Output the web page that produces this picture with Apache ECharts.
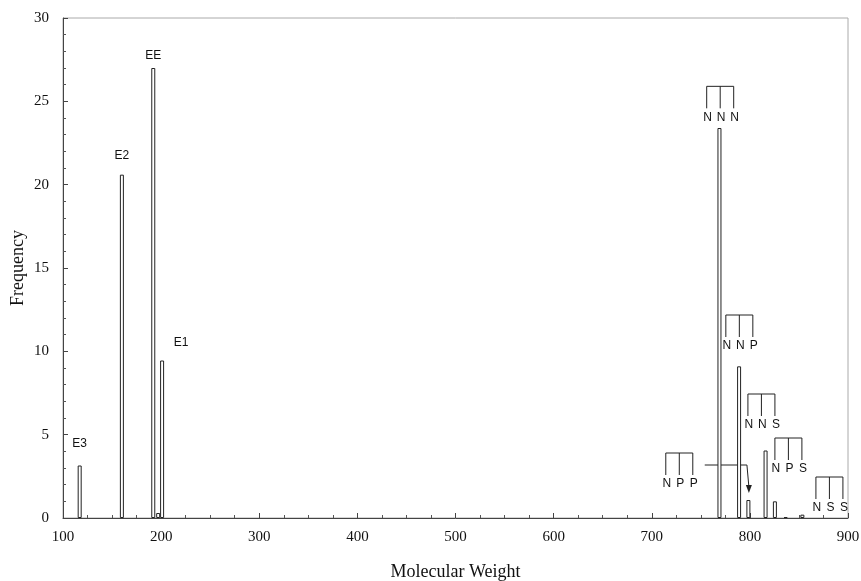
<!DOCTYPE html>
<html><head><meta charset="utf-8">
<script src="https://cdn.jsdelivr.net/npm/echarts@6/dist/echarts.min.js"></script>
<style>html,body{margin:0;padding:0;background:#fff}#c{width:861px;height:581px}</style>
</head><body><div id="c"></div>
<script>
// Data
const molWeight = [117, 160, 192, 197, 201, 769, 789, 798.5, 816, 825.5, 836.5, 853.5];
const frequency = [3.15, 20.6, 27.0, 0.3, 9.45, 23.4, 9.1, 1.08, 4.05, 1.0, 0.06, 0.2];
const peakLabels = ['E3', 'E2', 'EE', '', 'E1', '', '', '', '', '', '', ''];
const xTicks = [100, 200, 300, 400, 500, 600, 700, 800, 900];
const yTicks = [0, 5, 10, 15, 20, 25, 30];
// Tree annotations: letters and anchor (molecular weight, frequency) of bracket top-left
const treeNames = ['NNN', 'NNP', 'NNS', 'NPS', 'NSS', 'NPP'];
const treeAnchorMW = [756, 775.5, 798, 825.5, 867.3, 714.3];
const treeAnchorFreq = [25.9, 12.18, 7.44, 4.8, 2.46, 3.9];
// Arrow from NPP annotation to the small peak
const arrowMW = [754, 797, 799];
const arrowFreq = [3.18, 3.18, 1.5];

const labelStyle = {
  E3: {distance: 16, offset: [0, 0]},
  E2: {distance: 13, offset: [0, 0]},
  EE: {distance: 6, offset: [0, 0]},
  E1: {distance: 12, offset: [19, 0]}
};

const chart = echarts.init(document.getElementById('c'));
const seriesData = molWeight.map((x, i) => {
  const item = {value: [x, frequency[i]]};
  const nm = peakLabels[i];
  if (nm) {
    item.label = {show: true, formatter: nm, position: 'top',
      distance: labelStyle[nm].distance, offset: labelStyle[nm].offset,
      fontFamily: 'Liberation Sans', fontSize: 12, color: '#111'};
  }
  return item;
});

const serif = 'Liberation Serif';
chart.setOption({
  animation: false,
  backgroundColor: '#fff',
  grid: {left: 63, top: 18, right: 13, bottom: 63, show: true, borderColor: '#aaa', borderWidth: 1,
    containLabel: false, outerBoundsMode: 'none'},
  xAxis: {
    type: 'value', min: xTicks[0], max: xTicks[xTicks.length - 1], interval: 100,
    name: 'Molecular Weight', nameLocation: 'middle', nameGap: 45, nameMoveOverlap: false,
    nameTextStyle: {fontFamily: serif, fontSize: 18, color: '#111'},
    axisLine: {lineStyle: {color: '#444'}},
    axisTick: {inside: true, length: 5, lineStyle: {color: '#444'}},
    minorTick: {show: true, splitNumber: 4, length: 3, lineStyle: {color: '#555'}},
    axisLabel: {fontFamily: serif, fontSize: 15, color: '#111', margin: 12},
    splitLine: {show: false}
  },
  yAxis: {
    type: 'value', min: yTicks[0], max: yTicks[yTicks.length - 1], interval: 5,
    name: 'Frequency', nameLocation: 'middle', nameGap: 36, nameRotate: 90, nameMoveOverlap: false,
    nameTextStyle: {fontFamily: serif, fontSize: 18, color: '#111'},
    axisLine: {show: true, lineStyle: {color: '#444'}},
    axisTick: {show: true, inside: true, length: 5, lineStyle: {color: '#444'}},
    minorTick: {show: true, splitNumber: 5, length: 3, lineStyle: {color: '#555'}},
    axisLabel: {fontFamily: serif, fontSize: 15, color: '#111', margin: 14},
    splitLine: {show: false}
  },
  series: [{
    type: 'bar', data: seriesData, barWidth: 4,
    itemStyle: {color: '#fff', borderColor: '#222', borderWidth: 1}
  }]
});

function px(mw, f) { return chart.convertToPixel({gridIndex: 0}, [mw, f]); }
const graphics = [];
const lineStyle = {stroke: '#222', lineWidth: 1};
treeNames.forEach((name, i) => {
  const [x0, y0] = px(treeAnchorMW[i], treeAnchorFreq[i]);
  const xs = [x0, x0 + 13.5, x0 + 27];
  graphics.push({type: 'line', shape: {x1: xs[0], y1: y0, x2: xs[2], y2: y0}, style: lineStyle, silent: true});
  xs.forEach((x, k) => {
    graphics.push({type: 'line', shape: {x1: x, y1: y0, x2: x, y2: y0 + 22}, style: lineStyle, silent: true});
    graphics.push({type: 'text', x: x + 1, y: y0 + 31, style: {text: name[k], fill: '#111',
      font: '12px "Liberation Sans"', textAlign: 'center', textVerticalAlign: 'middle'}, silent: true});
  });
});
const ap = arrowMW.map((m, i) => px(m, arrowFreq[i]));
graphics.push({type: 'polyline', shape: {points: [ap[0], ap[1], [ap[2][0], ap[2][1] - 6]]}, style: lineStyle, silent: true});
graphics.push({type: 'polygon', shape: {points: [[ap[2][0] - 3, ap[2][1] - 8], [ap[2][0] + 3, ap[2][1] - 8], [ap[2][0], ap[2][1]]]},
  style: {fill: '#222'}, silent: true});
chart.setOption({graphic: graphics});
</script>
</body></html>
